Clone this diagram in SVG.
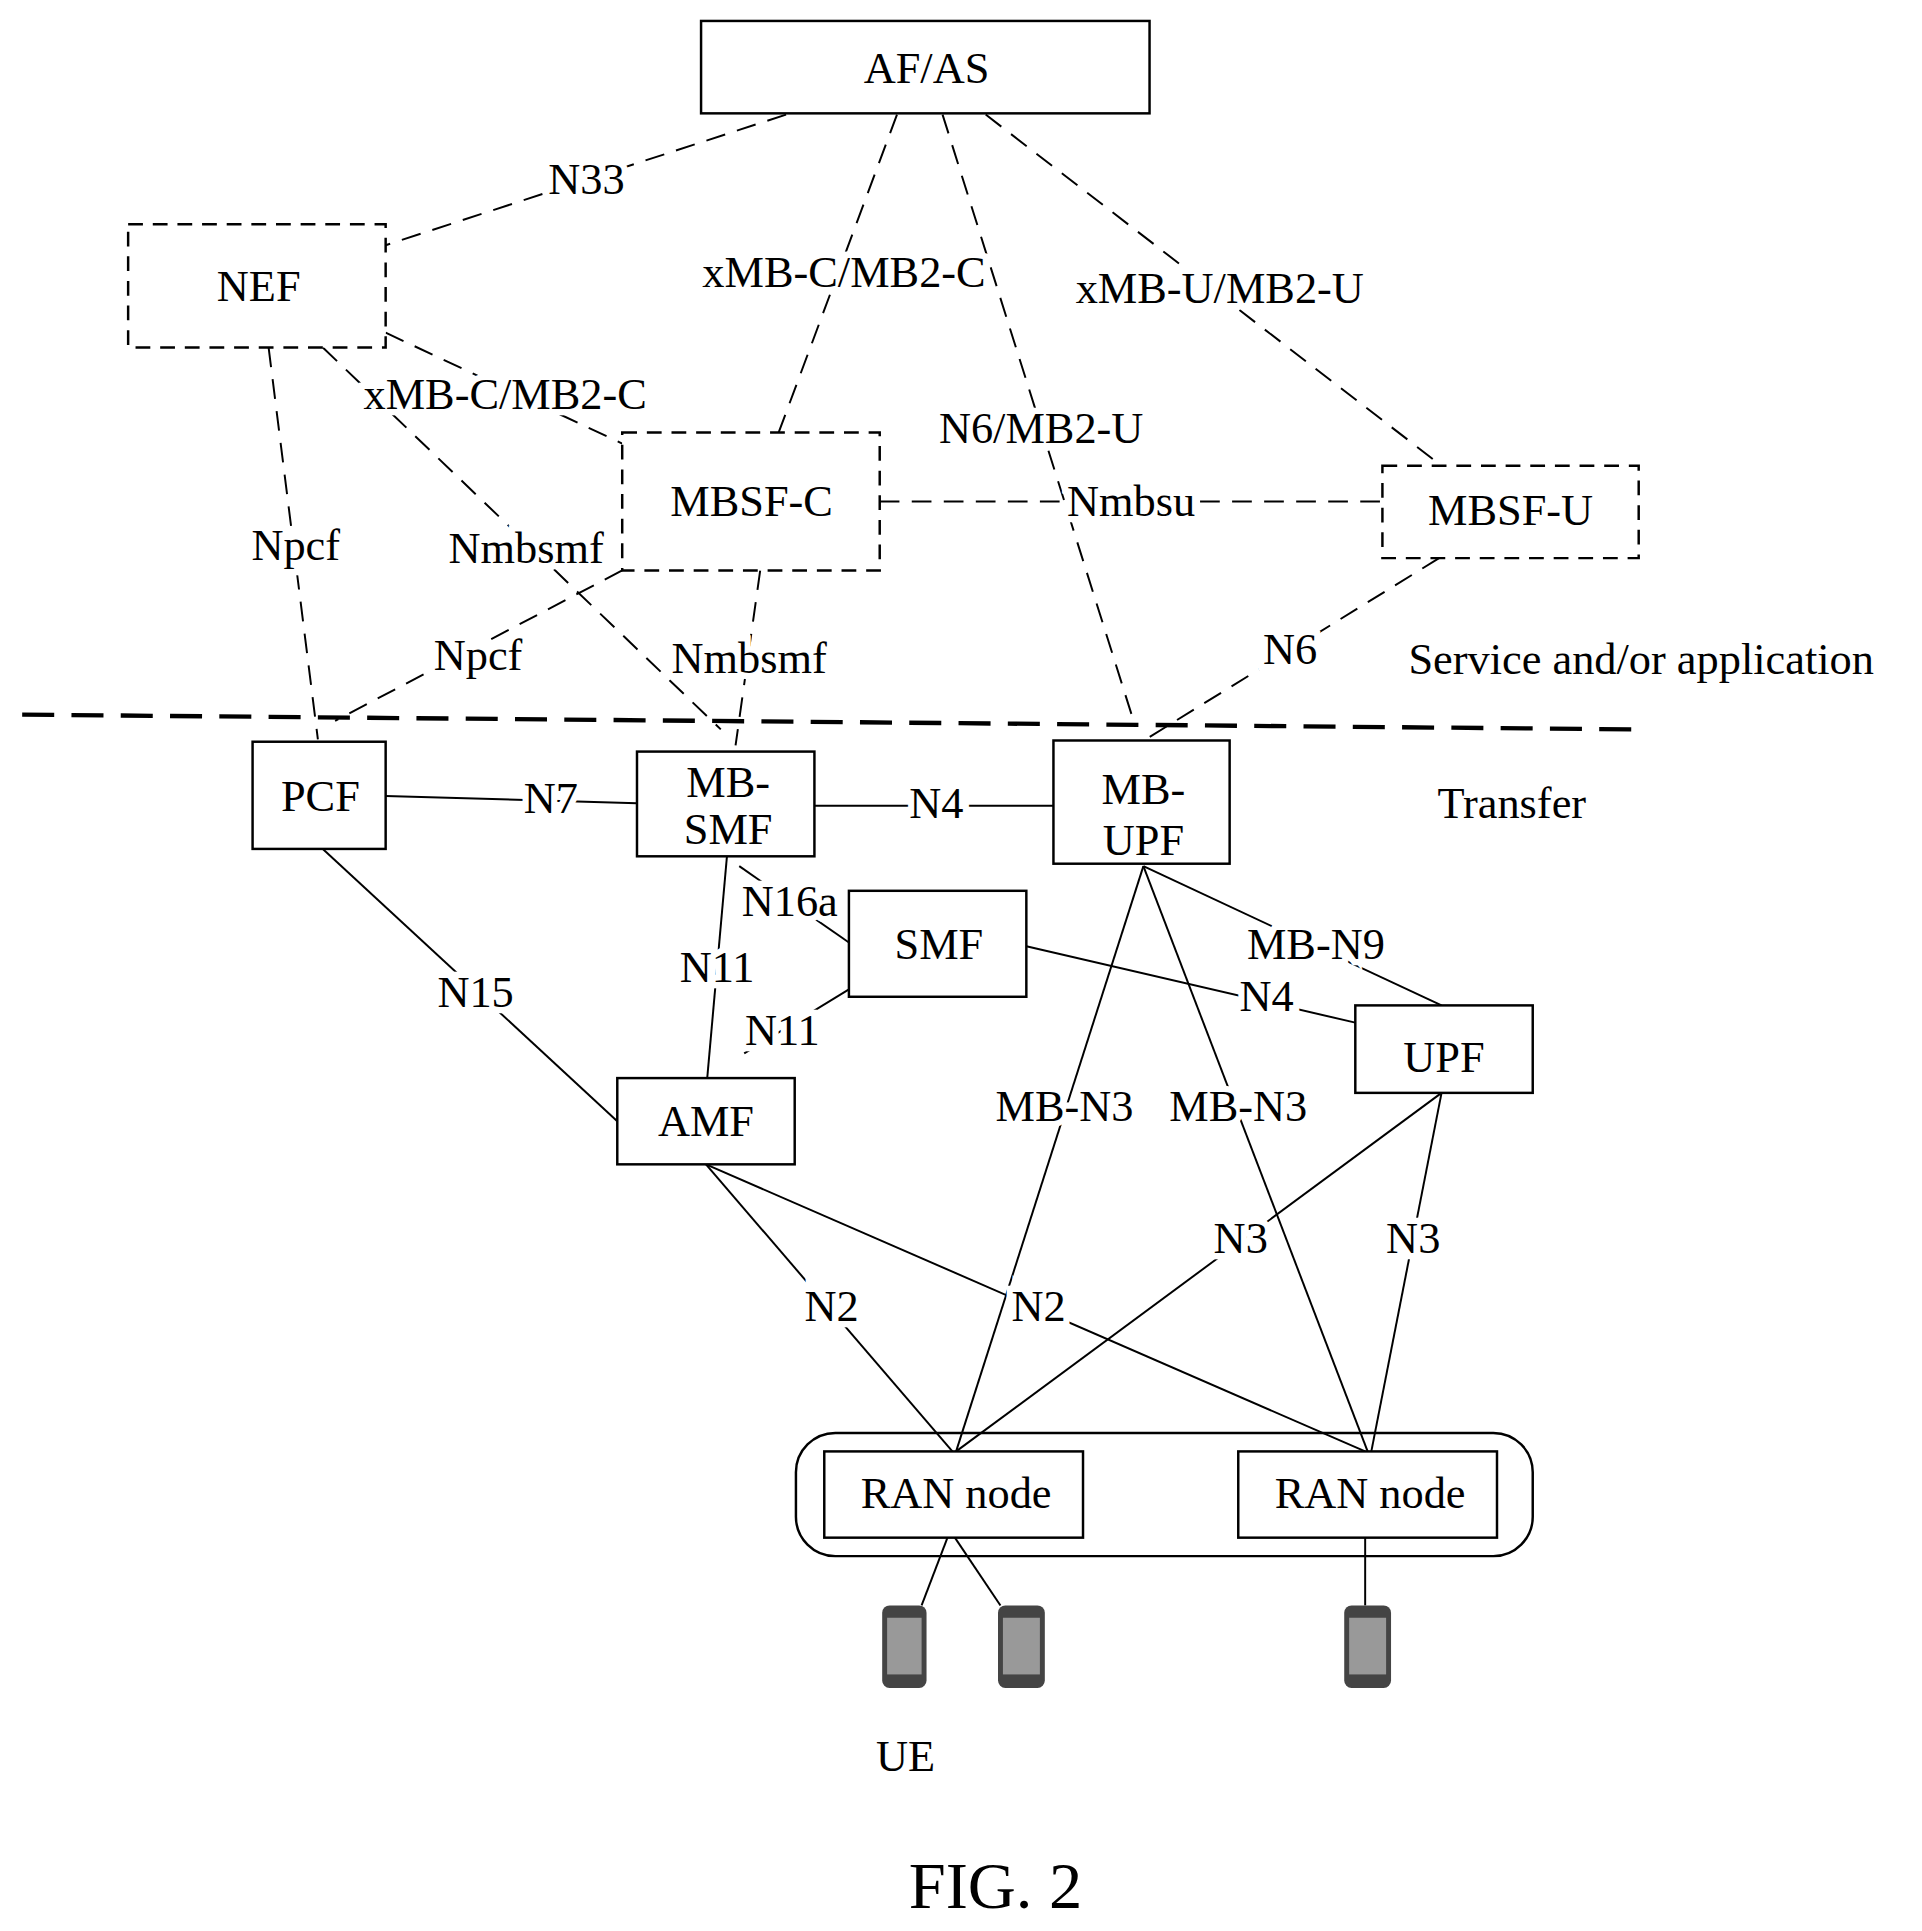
<svg xmlns="http://www.w3.org/2000/svg" width="1922" height="1931" viewBox="0 0 1922 1931">
<style>
.b{fill:#fff;stroke:#000;stroke-width:2}
.d{fill:#fff;stroke:#000;stroke-width:2;stroke-dasharray:12 8}
.t{font-family:"Liberation Serif",serif;font-size:36px;text-anchor:middle;dominant-baseline:central;fill:#000}
.l{font-family:"Liberation Serif",serif;font-size:36px;text-anchor:middle;dominant-baseline:central;fill:#000;stroke:#fff;stroke-width:10;paint-order:stroke}
.s{stroke:#000;stroke-width:1.6;fill:none}
.ds{stroke:#000;stroke-width:1.6;fill:none;stroke-dasharray:16 10}
</style>
<rect width="1922" height="1931" fill="#fff"/>
<g transform="scale(1.2321)">
<g id="connectors">
<line class="ds" x1="18" y1="580" x2="1330" y2="592" style="stroke-width:3.5;stroke-dasharray:26 14"/>
<line class="ds" x1="638" y1="93" x2="313" y2="199"/>
<line class="ds" x1="728" y1="93" x2="632" y2="351"/>
<line class="ds" x1="765" y1="93" x2="920" y2="585"/>
<line class="ds" x1="800" y1="93" x2="1170" y2="378"/>
<line class="ds" x1="313" y1="270" x2="505" y2="360"/>
<line class="ds" x1="218" y1="282" x2="258" y2="600"/>
<line class="ds" x1="262" y1="282" x2="585" y2="592"/>
<line class="ds" x1="505" y1="463" x2="272" y2="585"/>
<line class="ds" x1="617" y1="463" x2="597" y2="605"/>
<line class="ds" x1="714" y1="407" x2="1122" y2="407"/>
<line class="ds" x1="1168" y1="453" x2="930" y2="600"/>
<line class="s" x1="313" y1="646" x2="517" y2="652"/>
<line class="s" x1="661" y1="654" x2="855" y2="654"/>
<line class="s" x1="590" y1="695" x2="574" y2="875"/>
<line class="s" x1="600" y1="703" x2="689" y2="765"/>
<line class="s" x1="689" y1="803" x2="604" y2="855"/>
<line class="s" x1="262" y1="689" x2="501" y2="910"/>
<line class="s" x1="833" y1="768" x2="1100" y2="830"/>
<line class="s" x1="928" y1="703" x2="1170" y2="816"/>
<line class="s" x1="928" y1="703" x2="776" y2="1178"/>
<line class="s" x1="928" y1="703" x2="1110" y2="1178"/>
<line class="s" x1="573" y1="945" x2="773" y2="1178"/>
<line class="s" x1="573" y1="945" x2="1108" y2="1178"/>
<line class="s" x1="1170" y1="887" x2="776" y2="1178"/>
<line class="s" x1="1170" y1="887" x2="1113" y2="1178"/>
<line class="s" x1="769" y1="1248" x2="748" y2="1303"/>
<line class="s" x1="775" y1="1248" x2="812" y2="1303"/>
<line class="s" x1="1108" y1="1248" x2="1108" y2="1303"/>
<text class="l" x="476" y="145">N33</text>
<text class="l" x="685" y="221">xMB-C/MB2-C</text>
<text class="l" x="990" y="234">xMB-U/MB2-U</text>
<text class="l" x="410" y="320">xMB-C/MB2-C</text>
<text class="l" x="845" y="347">N6/MB2-U</text>
<text class="l" x="240" y="442">Npcf</text>
<text class="l" x="427" y="445">Nmbsmf</text>
<text class="l" x="918" y="407">Nmbsu</text>
<text class="l" x="388" y="532">Npcf</text>
<text class="l" x="608" y="534">Nmbsmf</text>
<text class="l" x="1047" y="527">N6</text>
<text class="l" x="447" y="648">N7</text>
<text class="l" x="760" y="652">N4</text>
<text class="l" x="641" y="731">N16a</text>
<text class="l" x="582" y="785">N11</text>
<text class="l" x="635" y="836">N11</text>
<text class="l" x="386" y="805">N15</text>
<text class="l" x="1068" y="766">MB-N9</text>
<text class="l" x="1028" y="808">N4</text>
<text class="l" x="864" y="898">MB-N3</text>
<text class="l" x="1005" y="898">MB-N3</text>
<text class="l" x="675" y="1060">N2</text>
<text class="l" x="843" y="1060">N2</text>
<text class="l" x="1007" y="1005">N3</text>
<text class="l" x="1147" y="1005">N3</text>
</g>
<g id="afas"><rect class="b" x="569" y="17" width="364" height="75"/><text class="t" x="752" y="55">AF/AS</text></g>
<g id="nef"><rect class="d" x="104" y="182" width="209" height="100"/><text class="t" x="210" y="232">NEF</text></g>
<g id="mbsfc"><rect class="d" x="505" y="351" width="209" height="112"/><text class="t" x="610" y="407">MBSF-C</text></g>
<g id="mbsfu"><rect class="d" x="1122" y="378" width="208" height="75"/><text class="t" x="1226" y="414">MBSF-U</text></g>
<g id="pcf"><rect class="b" x="205" y="602" width="108" height="87"/><text class="t" x="260" y="646">PCF</text></g>
<g id="mbsmf"><rect class="b" x="517" y="610" width="144" height="85"/><text class="t" x="591" y="635">MB-</text><text class="t" x="591" y="673">SMF</text></g>
<g id="mbupf"><rect class="b" x="855" y="601" width="143" height="100"/><text class="t" x="928" y="640">MB-</text><text class="t" x="928" y="682">UPF</text></g>
<g id="smf"><rect class="b" x="689" y="723" width="144" height="86"/><text class="t" x="762" y="766">SMF</text></g>
<g id="upf"><rect class="b" x="1100" y="816" width="144" height="71"/><text class="t" x="1172" y="858">UPF</text></g>
<g id="amf"><rect class="b" x="501" y="875" width="144" height="70"/><text class="t" x="573" y="910">AMF</text></g>
<g id="ran"><rect class="s" x="646" y="1163" width="598" height="100" rx="32" style="stroke-width:2"/>
<rect class="b" x="669" y="1178" width="210" height="70"/><text class="t" x="776" y="1212">RAN node</text>
<rect class="b" x="1005" y="1178" width="210" height="70"/><text class="t" x="1112" y="1212">RAN node</text></g>
<g id="ue">
<rect x="716" y="1303" width="36" height="67" rx="6" fill="#444"/><rect x="720" y="1313" width="28" height="46" fill="#999"/>
<rect x="810" y="1303" width="38" height="67" rx="6" fill="#444"/><rect x="814" y="1313" width="30" height="46" fill="#999"/>
<rect x="1091" y="1303" width="38" height="67" rx="6" fill="#444"/><rect x="1095" y="1313" width="30" height="46" fill="#999"/>
<text class="t" x="735" y="1425">UE</text></g>
<text class="t" x="1332" y="535">Service and/or application</text>
<text class="t" x="1227" y="652">Transfer</text>
<text class="t" x="808" y="1530" style="font-size:54px">FIG. 2</text>
</g>
</svg>
